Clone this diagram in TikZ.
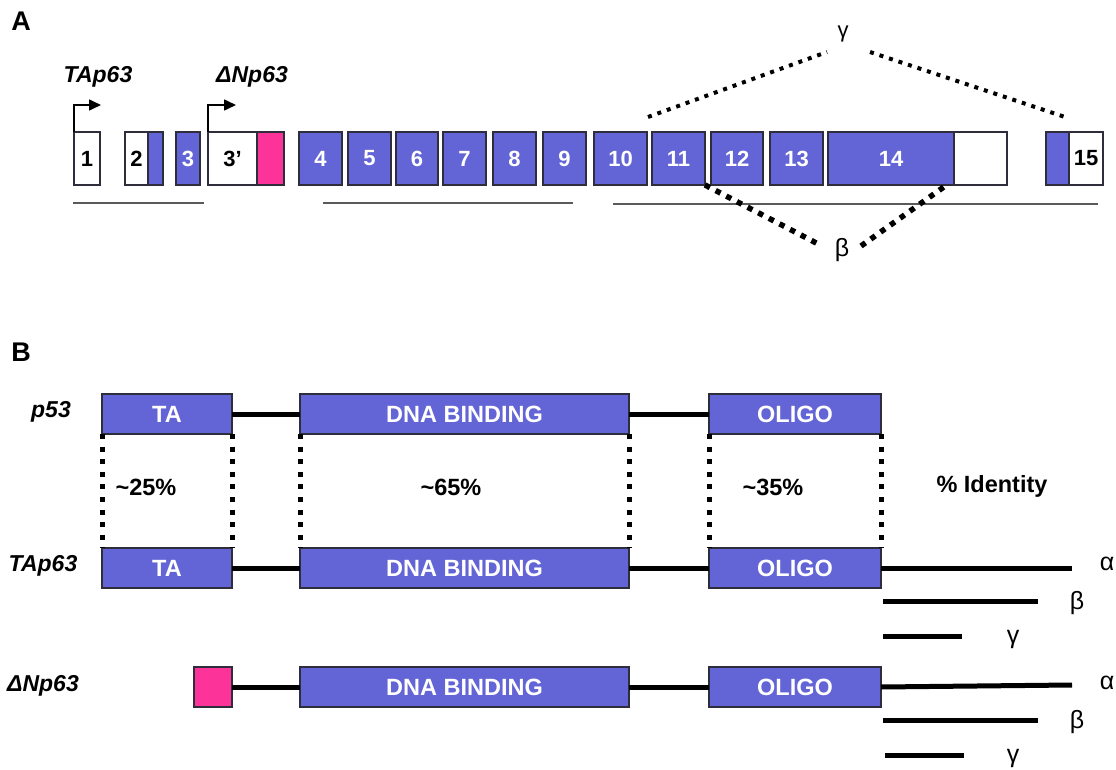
\documentclass[tikz,border=0pt]{standalone}
\usepackage{fontspec}
\setmainfont{Liberation Sans}
\usetikzlibrary{arrows.meta}
\definecolor{exblue}{RGB}{99,101,214}
\definecolor{expink}{RGB}{252,51,153}
\definecolor{bordc}{RGB}{45,45,60}
\definecolor{ulgray}{RGB}{90,90,90}
\tikzset{
  exonbox/.style={draw=bordc, line width=1.3pt, fill=exblue, text=white,
    font=\fontsize{22}{24}\selectfont\bfseries, inner sep=0pt, outer sep=0pt,
    minimum height=53pt, anchor=north west},
  exonwhite/.style={exonbox, fill=white, text=black},
  exonpink/.style={exonbox, fill=expink},
  dombox/.style={draw=bordc, line width=1.3pt, fill=exblue, text=white,
    font=\fontsize{23.5}{25}\selectfont\bfseries, inner sep=0pt, outer sep=0pt,
    minimum height=40pt, anchor=north west},
  dompink/.style={dombox, fill=expink},
  rowlabel/.style={font=\fontsize{23}{25}\selectfont\bfseries\itshape, inner sep=0pt},
  plain/.style={font=\fontsize{23.5}{25}\selectfont\bfseries, inner sep=0pt},
  greek/.style={font=\fontsize{25}{27}\selectfont, inner sep=0pt},
  panel/.style={font=\fontsize{27}{29}\selectfont\bfseries, inner sep=0pt},
  underl/.style={draw=ulgray, line width=1.5pt},
  promo/.style={draw=black, line width=1.6pt, -{Triangle[length=12pt,width=11pt]}},
  gdots/.style={draw=black, line width=4pt, dash pattern=on 4pt off 6pt},
  bdotsA/.style={draw=black, line width=5.5pt, dash pattern=on 5.5pt off 6.5pt},
  bdots/.style={draw=black, line width=5pt, dash pattern=on 5pt off 7.6pt},
  linker/.style={draw=black, line width=5pt},
}
\begin{document}
\begin{tikzpicture}[x=1pt,y=-1pt]
\useasboundingbox (0,0) rectangle (1116,770);
% ---------------- Panel A ----------------
\node[panel] (A) at (21,21) {A};
\node[exonwhite, minimum width=26pt] (e1) at (74,132) {1};
\node[exonwhite, minimum width=23pt] (e2w) at (125,132) {2};
\node[exonbox, minimum width=15pt] (e2b) at (148,132) {};
\node[exonbox, minimum width=24pt] (e3) at (176,132) {3};
\node[exonwhite, minimum width=49pt] (e3p) at (208,132) {3’};
\node[exonpink, minimum width=27pt] (e3pp) at (257,132) {};
\node[exonbox, minimum width=43pt] (e4) at (299,132) {4};
\node[exonbox, minimum width=43pt] (e5) at (348,132) {5};
\node[exonbox, minimum width=42pt] (e6) at (396,132) {6};
\node[exonbox, minimum width=43pt] (e7) at (443,132) {7};
\node[exonbox, minimum width=43pt] (e8) at (493,132) {8};
\node[exonbox, minimum width=43pt] (e9) at (543,132) {9};
\node[exonbox, minimum width=53pt] (e10) at (594,132) {10};
\node[exonbox, minimum width=53pt] (e11) at (652,132) {11};
\node[exonbox, minimum width=52pt] (e12) at (711,132) {12};
\node[exonbox, minimum width=53pt] (e13) at (770,132) {13};
\node[exonbox, minimum width=126pt] (e14) at (828,132) {14};
\node[exonwhite, minimum width=53pt] (e14w) at (954,132) {};
\node[exonbox, minimum width=23pt] (e15b) at (1046,132) {};
\node[exonwhite, minimum width=34pt] (e15) at (1069,132) {15};
% promoters
\node[rowlabel] (tapA) at (98,77) {TAp63};
\node[rowlabel] (dnpA) at (252,77) {ΔNp63};
\coordinate (tapTip) at (101,105);
\coordinate (dnpTip) at (236,105);
\draw[promo] (e1.north west) |- (tapTip);
\draw[promo] (e3p.north west) |- (dnpTip);
% underlines
\coordinate (u1a) at (73,203); \coordinate (u1b) at (204,203);
\coordinate (u2a) at (323,203); \coordinate (u2b) at (573,203);
\coordinate (u3a) at (613,204); \coordinate (u3b) at (1098,204);
\draw[underl] (u1a) -- (u1b);
\draw[underl] (u2a) -- (u2b);
\draw[underl] (u3a) -- (u3b);
% gamma splice
\node[greek, font=\fontsize{22}{24}\selectfont] (gA) at (843,34) {γ};
\coordinate (g1) at (648,117); \coordinate (g2) at (827,52);
\coordinate (g3) at (870,52); \coordinate (g4) at (1065,117);
\draw[gdots] (g1) -- (g2);
\draw[gdots] (g3) -- (g4);
% beta splice
\node[greek] (bA) at (842,250) {β};
\coordinate (b2) at (822,246); \coordinate (b3) at (861,246);
\coordinate (b4) at (948,184);
\draw[bdotsA] (e11.south east) -- (b2);
\draw[bdotsA] (b3) -- (b4);
% ---------------- Panel B ----------------
\node[panel] (B) at (21,352) {B};
\node[rowlabel] (p53) at (51,412) {p53};
\node[rowlabel] (tap) at (43,566) {TAp63};
\node[rowlabel] (dnp) at (43,686) {ΔNp63};
% p53 row
\node[dombox, minimum width=130pt] (pTA) at (102,394) {TA};
\node[dombox, minimum width=329pt] (pDNA) at (300,394) {DNA BINDING};
\node[dombox, minimum width=172pt] (pOL) at (709,394) {OLIGO};
\draw[linker] (pTA.east) -- (pDNA.west);
\draw[linker] (pDNA.east) -- (pOL.west);
% TAp63 row
\node[dombox, minimum width=130pt] (tTA) at (102,548) {TA};
\node[dombox, minimum width=329pt] (tDNA) at (300,548) {DNA BINDING};
\node[dombox, minimum width=172pt] (tOL) at (709,548) {OLIGO};
\draw[linker] (tTA.east) -- (tDNA.west);
\draw[linker] (tDNA.east) -- (tOL.west);
% dNp63 row
\node[dompink, minimum width=38pt] (dPK) at (194,667) {};
\node[dombox, minimum width=329pt] (dDNA) at (300,667) {DNA BINDING};
\node[dombox, minimum width=172pt] (dOL) at (709,667) {OLIGO};
\draw[linker] (dPK.east) -- (dDNA.west);
\draw[linker] (dDNA.east) -- (dOL.west);
% identity dotted connectors
\draw[bdots] (pTA.south west) -- (tTA.north west);
\draw[bdots] (pTA.south east) -- (tTA.north east);
\draw[bdots] (pDNA.south west) -- (tDNA.north west);
\draw[bdots] (pDNA.south east) -- (tDNA.north east);
\draw[bdots] (pOL.south west) -- (tOL.north west);
\draw[bdots] (pOL.south east) -- (tOL.north east);
\node[plain] (id25) at (146,487) {\char`~25\%};
\node[plain] (id65) at (451,487) {\char`~65\%};
\node[plain] (id35) at (773,487) {\char`~35\%};
\node[plain] (idt) at (992,486) {\% Identity};
% isoform tails TAp63
\node[greek] (ta) at (1107,564) {α};
\node[greek] (tb) at (1077,603) {β};
\node[greek] (tg) at (1013,639) {γ};
\coordinate (taE) at (1072,568);
\coordinate (tbS) at (883,601); \coordinate (tbE) at (1038,601);
\coordinate (tgS) at (883,636); \coordinate (tgE) at (962,636);
\draw[linker] (tOL.east) -- (taE);
\draw[linker] (tbS) -- (tbE);
\draw[linker] (tgS) -- (tgE);
% isoform tails dNp63
\node[greek] (da) at (1107,683) {α};
\node[greek] (db) at (1077,722) {β};
\node[greek] (dg) at (1013,758) {γ};
\coordinate (daE) at (1072,685);
\coordinate (dbS) at (883,720); \coordinate (dbE) at (1038,720);
\coordinate (dgS) at (885,755); \coordinate (dgE) at (964,755);
\draw[linker] (dOL.east) -- (daE);
\draw[linker] (dbS) -- (dbE);
\draw[linker] (dgS) -- (dgE);
\end{tikzpicture}
\end{document}
